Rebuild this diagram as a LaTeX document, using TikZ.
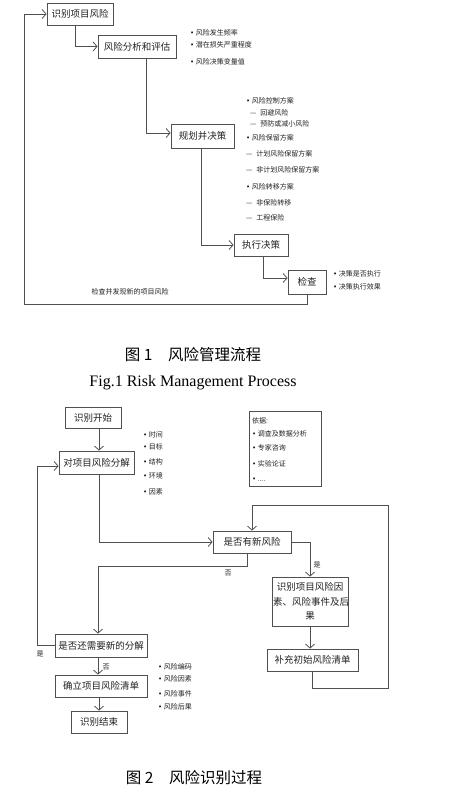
\documentclass[tikz,border=0pt]{standalone}
\usepackage{fontspec}
\setmainfont{Noto Sans CJK SC}
\newfontfamily\serifen{Liberation Serif}
\newfontfamily\dejavu{DejaVu Sans}
\usetikzlibrary{arrows.meta}
\definecolor{ln}{HTML}{505050}
\definecolor{tx}{HTML}{222222}
\newcommand\bl{{\dejavu\char"2022}\hspace{1.5pt}}
\tikzset{
 box/.style={draw=ln, line width=0.8pt, fill=white, inner sep=0pt, align=center, font=\fontsize{9.5}{11}\selectfont, text=tx},
 arr/.style={draw=ln, line width=0.8pt, -{Straight Barb[length=4pt,width=9pt]}},
 lnk/.style={draw=ln, line width=0.8pt},
 itemtxt/.style={anchor=west, inner sep=0pt, font=\fontsize{7}{8}\selectfont, text=tx},
 lbl/.style={inner sep=0pt, font=\fontsize{7}{8}\selectfont, text=tx},
 captxt/.style={inner sep=0pt, font=\fontsize{15.5}{17}\selectfont, text=black},
}
\begin{document}
\begin{tikzpicture}[x=1pt,y=-1pt]
\useasboundingbox[fill=white] (0,0) rectangle (467,792);

% ---------------- Figure 1 ----------------
\node[box, minimum width=66pt, minimum height=22pt] (A) at (80,14) {识别项目风险};
\node[box, minimum width=78pt, minimum height=23pt] (B) at (137,46.5) {风险分析和评估};
\node[box, minimum width=63pt, minimum height=24pt] (C) at (202.5,136) {规划并决策};
\node[box, minimum width=54pt, minimum height=22pt] (D) at (261,245) {执行决策};
\node[box, minimum width=38pt, minimum height=24pt] (E) at (307,282) {检查};
\coordinate (fbk) at (24,304);

\draw[arr] ([xshift=-5pt]A.south) |- (B.west);
\draw[arr] ([xshift=9pt]B.south) |- ([yshift=3pt]C.west);
\draw[arr] ([xshift=-1.5pt]C.south) |- (D.west);
\draw[arr] ([xshift=2pt]D.south) |- ([yshift=4pt]E.west);
\draw[arr] (E.south) |- (fbk) |- (A.west);

\node[lbl] (fbl) at (130,292) {检查并发现新的项目风险};

\node[itemtxt] (b1) at (190,33) {\bl 风险发生频率};
\node[itemtxt] (b2) at (190,45) {\bl 潜在损失严重程度};
\node[itemtxt] (b3) at (190,62) {\bl 风险决策变量值};

\node[itemtxt] (c1) at (246,101) {\bl 风险控制方案};
\node[itemtxt] (c2) at (250,113) {—\hspace{4pt}回避风险};
\node[itemtxt] (c3) at (250,124) {—\hspace{4pt}预防或减小风险};
\node[itemtxt] (c4) at (246,138) {\bl 风险保留方案};
\node[itemtxt] (c5) at (246,154) {—\hspace{4pt}计划风险保留方案};
\node[itemtxt] (c6) at (246,170) {—\hspace{4pt}非计划风险保留方案};
\node[itemtxt] (c7) at (246,187) {\bl 风险转移方案};
\node[itemtxt] (c8) at (246,203) {—\hspace{4pt}非保险转移};
\node[itemtxt] (c9) at (246,218) {—\hspace{4pt}工程保险};

\node[itemtxt] (e1) at (333,274) {\bl 决策是否执行};
\node[itemtxt] (e2) at (333,287) {\bl 决策执行效果};

\node[captxt] (cap1) at (193,355) {图 1\hspace{1em}风险管理流程};
\node[captxt, font=\serifen\fontsize{16}{18}\selectfont] (cap1e) at (193,383) {Fig.1 Risk Management Process};

% ---------------- Figure 2 ----------------
\node[box, minimum width=56pt, minimum height=21pt] (S) at (93,417.5) {识别开始};
\node[box, minimum width=75pt, minimum height=23pt] (T) at (96.5,462.5) {对项目风险分解};
\node[box, minimum width=78pt, minimum height=22pt] (Q1) at (252,542) {是否有新风险};
\node[box, minimum width=76pt, minimum height=49pt, text width=74pt, font=\fontsize{9.5}{14.5}\selectfont] (R) at (310,601.5) {识别项目风险因\\素、风险事件及后\\果};
\node[box, minimum width=91pt, minimum height=22pt] (U) at (312.5,660) {补充初始风险清单};
\node[box, minimum width=92pt, minimum height=23pt] (Q2) at (101,645.5) {是否还需要新的分解};
\node[box, minimum width=92pt, minimum height=22pt] (V) at (101,686) {确立项目风险清单};
\node[box, minimum width=56pt, minimum height=22pt] (W) at (99,722) {识别结束};
\node[draw=ln, line width=0.8pt, minimum width=72pt, minimum height=75pt, inner sep=0pt] (Y) at (285,448.5) {};

\node[itemtxt] (y0) at (252,421) {依据:};
\node[itemtxt] (y1) at (252,434) {\bl 调查及数据分析};
\node[itemtxt] (y2) at (252,448) {\bl 专家咨询};
\node[itemtxt] (y3) at (252,464) {\bl 实验论证};
\node[itemtxt] (y4) at (252,480) {\bl ....};

\node[itemtxt] (t1) at (143,435) {\bl 时间};
\node[itemtxt] (t2) at (143,447) {\bl 目标};
\node[itemtxt] (t3) at (143,462) {\bl 结构};
\node[itemtxt] (t4) at (143,476) {\bl 环境};
\node[itemtxt] (t5) at (143,492) {\bl 因素};

\node[itemtxt] (v1) at (158,667) {\bl 风险编码};
\node[itemtxt] (v2) at (158,679) {\bl 风险因素};
\node[itemtxt] (v3) at (158,694) {\bl 风险事件};
\node[itemtxt] (v4) at (158,707) {\bl 风险后果};

\coordinate (lp1) at (388,688);
\coordinate (lp2) at (388,505);
\coordinate (nb) at (98,566);
\coordinate (lb) at (37,466);

\draw[arr] ([xshift=6pt]S.south) -- ([xshift=6pt]S.south |- T.north);
\draw[arr] ([xshift=2.5pt]T.south) |- (Q1.west);
\draw[arr] (Q1.east) -| (R.north);
\draw[arr] (R.south) -- (R.south |- U.north);
\draw[arr] (U.south) |- (lp1) -- (lp2) -| (Q1.north);
\draw[arr] ([xshift=-5pt]Q1.south) |- (nb) -- (nb |- Q2.north);
\draw[arr] (Q2.west) -| (lb) -- ([yshift=-3.5pt]T.west);
\draw[arr] ([xshift=-3pt]Q2.south) -- ([xshift=-3pt]Q2.south |- V.north);
\draw[arr] ([xshift=-2pt]V.south) -- ([xshift=-2pt]V.south |- W.north);

\node[lbl] (ly) at (317,565) {是};
\node[lbl] (ln1) at (228,573) {否};
\node[lbl] (ly2) at (40,654) {是};
\node[lbl] (ln2) at (106,667) {否};

\node[captxt] (cap2) at (194,778) {图 2\hspace{1em}风险识别过程};
\end{tikzpicture}
\end{document}
